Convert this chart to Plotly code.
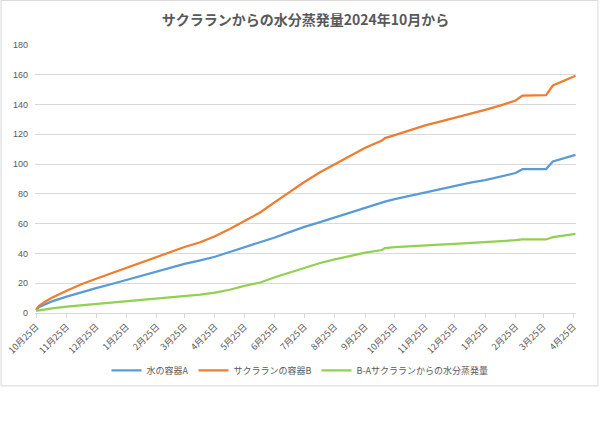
import plotly.graph_objects as go

# ---- data ----
dates = [
    "2024-10-25", "2024-10-28", "2024-11-03", "2024-11-10", "2024-11-25",
    "2024-12-10", "2024-12-25", "2025-01-10", "2025-01-25", "2025-02-10",
    "2025-02-25", "2025-03-10", "2025-03-25", "2025-04-10", "2025-04-25",
    "2025-05-10", "2025-05-25", "2025-06-10", "2025-06-25", "2025-07-10",
    "2025-07-25", "2025-08-10", "2025-08-25", "2025-09-10", "2025-09-25",
    "2025-10-12", "2025-10-15", "2025-10-25", "2025-11-10", "2025-11-25",
    "2025-12-10", "2025-12-25", "2026-01-10", "2026-01-25", "2026-02-10",
    "2026-02-25", "2026-03-04", "2026-03-28", "2026-04-04", "2026-04-15",
    "2026-04-27",
]
container_a = [
    1.8, 4.0, 5.8, 7.8, 11.0,
    14.0, 16.7, 19.5, 22.2, 25.0,
    27.8, 30.5, 33.0, 35.4, 37.8,
    41.0, 44.0, 47.3, 50.7, 54.3,
    57.8, 61.0, 64.2, 67.5, 70.7,
    74.0, 74.8, 76.5, 78.8, 80.8,
    83.2, 85.5, 87.5, 89.3, 91.7,
    94.0, 96.6, 96.7, 101.8, 104.0,
    106.2,
]
container_b = [
    2.2, 4.9, 7.6, 10.2, 15.0,
    19.3, 23.0, 26.8, 30.4, 34.2,
    38.0, 41.0, 44.3, 47.5, 51.5,
    56.5, 62.0, 67.5, 74.5, 81.5,
    88.0, 94.5, 100.0, 105.8, 111.0,
    115.8, 117.5, 119.5, 123.0, 126.0,
    128.5, 131.0, 133.5, 136.4, 139.5,
    142.7, 146.0, 146.3, 152.8, 155.8,
    159.3,
]
diff_ba = [
    1.5, 1.8, 2.7, 3.1, 4.3,
    5.2, 6.1, 7.0, 7.9, 8.8,
    9.7, 10.4, 11.3, 12.3, 13.7,
    15.6, 18.2, 20.5, 24.0, 27.3,
    30.6, 33.6, 36.0, 38.5, 40.5,
    42.3, 43.6, 44.2, 45.0, 45.5,
    46.0, 46.5, 47.0, 47.5, 48.2,
    48.9, 49.4, 49.4, 51.0, 52.0,
    53.1,
]

series_names = ["水の容器A", "サクラランの容器B", "B-Aサクラランからの水分蒸発量"]
series_colors = ["#5B9BD5", "#ED7D31", "#92D050"]

tick_dates = [
    "2024-10-25", "2024-11-25", "2024-12-25", "2025-01-25", "2025-02-25",
    "2025-03-25", "2025-04-25", "2025-05-25", "2025-06-25", "2025-07-25",
    "2025-08-25", "2025-09-25", "2025-10-25", "2025-11-25", "2025-12-25",
    "2026-01-25", "2026-02-25", "2026-03-25", "2026-04-25",
]
tick_labels = [
    "10月25日", "11月25日", "12月25日", "1月25日", "2月25日", "3月25日",
    "4月25日", "5月25日", "6月25日", "7月25日", "8月25日", "9月25日",
    "10月25日", "11月25日", "12月25日", "1月25日", "2月25日", "3月25日",
    "4月25日",
]
y_ticks = [0, 20, 40, 60, 80, 100, 120, 140, 160, 180]

title_text = "サクラランからの水分蒸発量2024年10月から"

# ---- figure ----
fig = go.Figure()
for name, ys, col in zip(series_names, [container_a, container_b, diff_ba], series_colors):
    fig.add_trace(go.Scatter(
        x=dates, y=ys, mode="lines", name=name,
        line=dict(color=col, width=2.25),
    ))

W, H = 600, 424
ml, mr, mt, mb = 34.5, 23.5, 45, 111.3
pw = W - ml - mr
ph = H - mt - mb

def px_x(p):
    return (p - ml) / pw

def px_y(p):
    return (H - mb - p) / ph

fig.update_layout(
    width=W, height=H,
    margin=dict(l=ml, r=mr, t=mt, b=mb, pad=0, autoexpand=False),
    paper_bgcolor="white", plot_bgcolor="white",
    font=dict(family="Noto Sans CJK JP, Noto Sans, sans-serif", color="#595959", size=9),
    title=dict(
        text="<b>" + title_text + "</b>",
        x=0.5, xref="paper", xanchor="center",
        y=1 - 20 / H, yref="container", yanchor="middle",
        font=dict(size=14, color="#595959", family="Noto Sans CJK JP, sans-serif"),
    ),
    showlegend=True,
    legend=dict(
        orientation="h", x=px_x(300), xanchor="center",
        y=px_y(370), yanchor="middle",
        font=dict(size=9, color="#595959"),
        bgcolor="rgba(0,0,0,0)", itemwidth=30, tracegroupgap=0,
    ),
    xaxis=dict(
        type="date", automargin=False,
        range=["2024-10-23 20:00", "2026-04-27 12:00"],
        tickvals=tick_dates, ticktext=tick_labels, tickangle=-45,
        showgrid=False, showline=True, linecolor="#D9D9D9", linewidth=1,
        ticks="outside", ticklen=4, tickcolor="#D9D9D9",
        tickfont=dict(size=9, color="#595959"),
        zeroline=False, fixedrange=True,
    ),
    yaxis=dict(
        range=[0, 180], tickvals=y_ticks, automargin=False,
        showgrid=True, gridcolor="#D9D9D9", gridwidth=1,
        showline=False, zeroline=False, ticks="",
        ticklabelstandoff=6,
        tickfont=dict(size=9, color="#595959", family="Liberation Sans, Arial, sans-serif"),
        fixedrange=True,
    ),
    shapes=[dict(
        type="rect", xref="paper", yref="paper",
        x0=px_x(0.5), x1=px_x(598.5), y0=px_y(385.5), y1=px_y(0.5),
        line=dict(color="#D9D9D9", width=1), fillcolor="rgba(0,0,0,0)", layer="below",
    )],
)

fig.write_html("out.html")
